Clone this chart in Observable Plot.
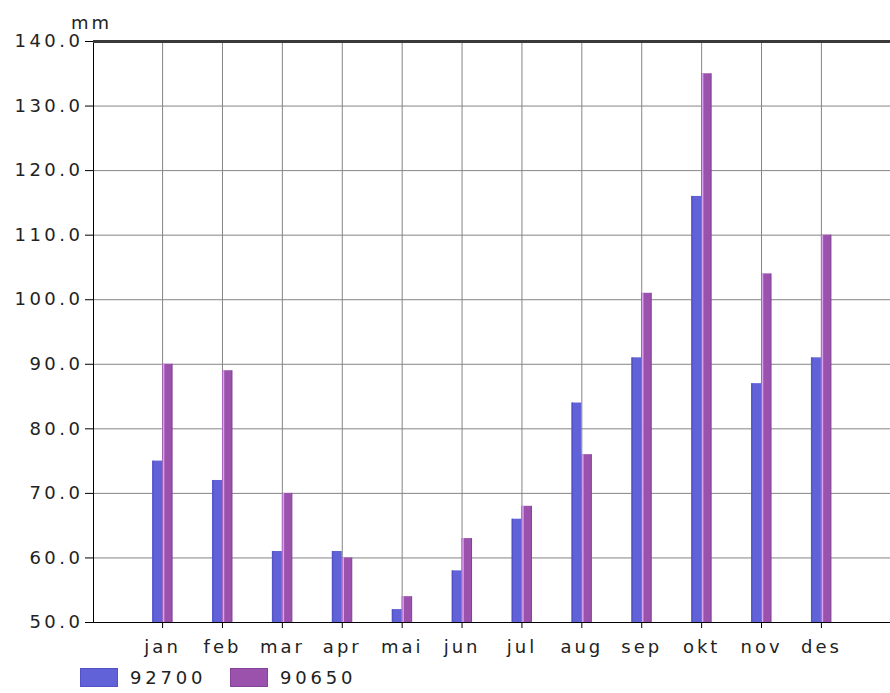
<!DOCTYPE html>
<html><head><meta charset="utf-8">
<script src="https://cdn.jsdelivr.net/npm/d3@7"></script>
<script src="https://cdn.jsdelivr.net/npm/@observablehq/plot@0.6"></script>
<style>
body{margin:0;background:#fff;font-family:"DejaVu Sans",sans-serif;}
#legend{position:relative;height:33px;font-size:18px;letter-spacing:3.8px;color:#222;}
.item{position:absolute;top:8px;display:flex;align-items:center;height:19px;}
.sw{width:38px;height:19px;box-sizing:border-box;margin-right:12px;}
#chart g[aria-label="y-axis tick label"]{letter-spacing:3.5px;}
</style></head><body>
<div id="chart"></div>
<div id="legend"></div>
<script>
const months = ["jan","feb","mar","apr","mai","jun","jul","aug","sep","okt","nov","des"];
const seriesNames = ["92700","90650"];
const values92700 = [75, 72, 61, 61, 52, 58, 66, 84, 91, 116, 87, 91];
const values90650 = [90, 89, 70, 60, 54, 63, 68, 76, 101, 135, 104, 110];
const yTicks = [50, 60, 70, 80, 90, 100, 110, 120, 130, 140];
const unitLabel = "mm";
const colors = ["#6262d8", "#9a52ad"];

const rowsA = months.map((m, i) => ({month: m, value: values92700[i]}));
const rowsB = months.map((m, i) => ({month: m, value: values90650[i]}));
const yMin = yTicks[0], yMax = yTicks[yTicks.length - 1];

const chart = Plot.plot({
  width: 890,
  height: 660,
  marginLeft: 93,
  marginRight: 0,
  marginTop: 41,
  marginBottom: 38,
  style: {fontFamily: "DejaVu Sans, sans-serif", fontSize: "18px", letterSpacing: "3px", color: "#222", background: "#fff"},
  x: {type: "band", domain: months, paddingInner: 0.833, paddingOuter: 1.07, round: false, label: null},
  y: {domain: [yMin, yMax], label: null},
  marks: [
    Plot.gridY(yTicks, {stroke: "#858585", strokeOpacity: 1}),
    Plot.gridX({stroke: "#858585", strokeOpacity: 1}),
    Plot.barY(rowsA, {x: "month", y1: () => yMin, y2: "value", dx: -5, fill: colors[0]}),
    Plot.ruleX(rowsA, {x: "month", y1: () => yMin, y2: "value", dx: -9.5, stroke: "#5050c4", strokeWidth: 1}),
    Plot.barY(rowsB, {x: "month", y1: () => yMin, y2: "value", dx: 5, fill: colors[1]}),
    Plot.ruleX(rowsB, {x: "month", y1: () => yMin, y2: "value", dx: 1, stroke: "#d9a3ee", strokeWidth: 1.5}),
    Plot.ruleX(rowsB, {x: "month", y1: () => yMin, y2: "value", dx: 9.5, stroke: "#7c4290", strokeWidth: 1}),
    Plot.frame({stroke: "#000", insetRight: -4}),
    Plot.ruleY([yMax], {stroke: "#3a3a3a", strokeWidth: 3}),
    Plot.ruleY([yMin], {stroke: "#000"}),
    Plot.axisY(yTicks, {tickFormat: d3.format(".1f"), tickSize: 8, tickPadding: 2, fontSize: 18, label: null, stroke: "#000", fill: "#222"}),
    Plot.axisX({tickSize: 6, tickPadding: 12, fontSize: 18, label: null, stroke: "#000", fill: "#222"}),
    Plot.text([unitLabel], {frameAnchor: "top-left", text: d => d, dx: -2, dy: -25, fontSize: 18, textAnchor: "middle", fill: "#222"})
  ]
});
document.getElementById("chart").appendChild(chart);

const legend = document.getElementById("legend");
const lefts = [80, 230];
seriesNames.forEach((name, i) => {
  const item = document.createElement("div");
  item.className = "item";
  item.style.left = lefts[i] + "px";
  const sw = document.createElement("span");
  sw.className = "sw";
  sw.style.background = colors[i];
  sw.style.border = "1px solid " + (i === 0 ? "#5252c6" : "#85449a");
  const t = document.createElement("span");
  t.textContent = name;
  item.appendChild(sw);
  item.appendChild(t);
  legend.appendChild(item);
});
</script>
</body></html>
